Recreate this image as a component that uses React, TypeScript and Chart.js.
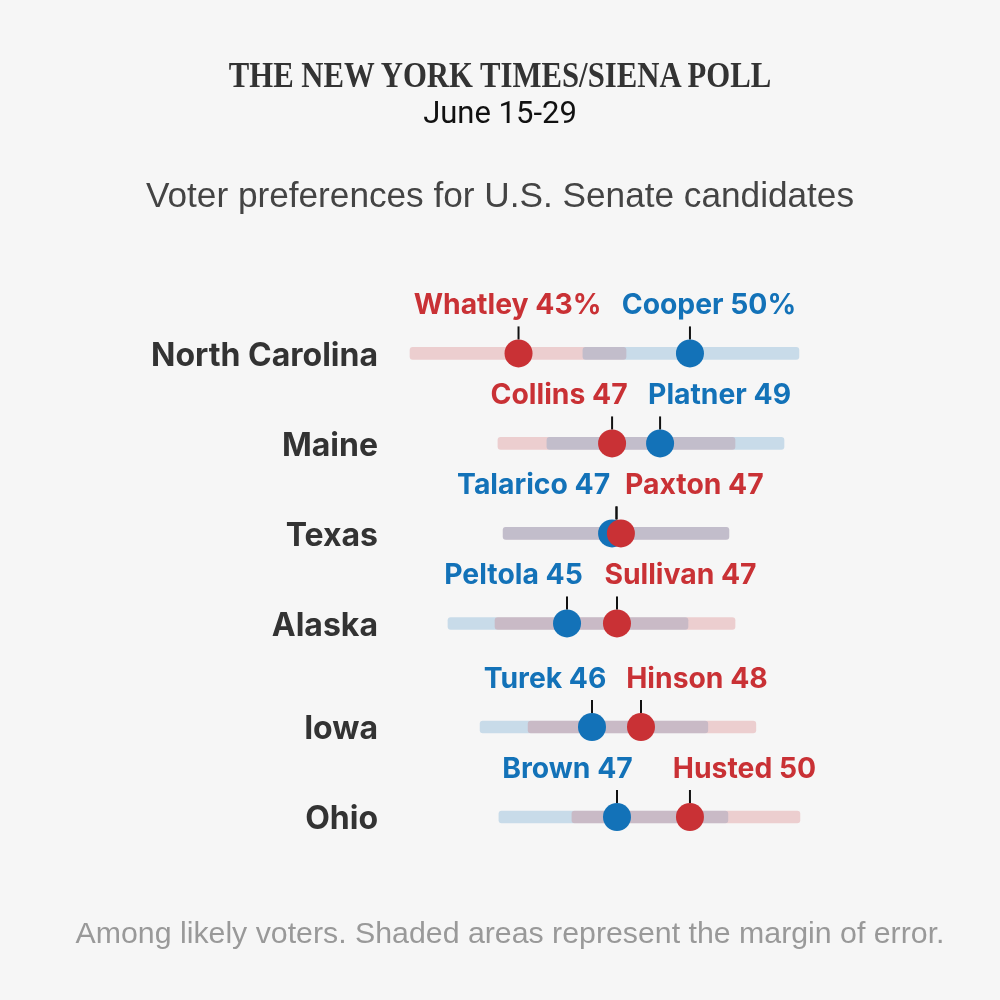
import React, { useEffect, useRef } from 'react'
import { Chart, registerables, Plugin } from 'chart.js'

Chart.register(...registerables)

const states = ['North Carolina', 'Maine', 'Texas', 'Alaska', 'Iowa', 'Ohio']
// Iowa and Ohio sit a little lower than the even spacing of the others
const rowValues = [0, 1, 2, 3, 4.15, 5.15]

const demLabels = ['Cooper 50%', 'Platner 49', 'Talarico 47', 'Peltola 45', 'Turek 46', 'Brown 47']
const repLabels = ['Whatley 43%', 'Collins 47', 'Paxton 47', 'Sullivan 47', 'Hinson 48', 'Husted 50']

const demValues = [50, 48.78, 46.82, 44.98, 46, 47.02]
const repValues = [43, 46.82, 47.18, 47.02, 48, 50]

const demLow = [45.63, 44.16, 42.37, 40.12, 41.43, 42.2]
const demHigh = [54.45, 53.84, 51.59, 49.92, 50.73, 51.55]
const repLow = [38.57, 42.16, 42.37, 42.04, 43.39, 45.18]
const repHigh = [47.39, 51.84, 51.59, 51.84, 52.69, 54.49]

// which party's band is painted last in each row
const bandOnTop = ['dem', 'dem', 'dem', 'rep', 'rep', 'rep']

// label centre relative to its dot, in pixels
const demLabelShift = [19, 59.5, -78.5, -53.5, -47, -49.5]
const repLabelShift = [-11, -53, 73.5, 63.5, 56, 54.5]

const RED = '#C93135'
const BLUE = '#1372B8'
const RED_BAND = 'rgba(201, 49, 53, 0.2)'
const BLUE_BAND = 'rgba(19, 114, 184, 0.2)'
const LABEL_FONT = 'bold 28.3px Inter, sans-serif'

const demBand = (i: number) => ({ x: [demLow[i], demHigh[i]], y: rowValues[i] })
const repBand = (i: number) => ({ x: [repLow[i], repHigh[i]], y: rowValues[i] })

const markerPlugin: Plugin<'bar'> = {
  id: 'markers',
  afterDatasetsDraw(chart) {
    const { ctx, scales } = chart
    const draw = (values: number[], labels: string[], shifts: number[], color: string) => {
      values.forEach((v, i) => {
        const px = scales.x.getPixelForValue(v)
        const py = scales.y.getPixelForValue(rowValues[i])
        ctx.save()
        ctx.strokeStyle = '#111'
        ctx.lineWidth = 2
        // Texas: both leader lines meet between the two dots
        const lineX = states[i] === 'Texas' ? scales.x.getPixelForValue((demValues[i] + repValues[i]) / 2) : px
        ctx.beginPath()
        ctx.moveTo(lineX, py - 27)
        ctx.lineTo(lineX, py - 14)
        ctx.stroke()
        ctx.font = LABEL_FONT
        ctx.fillStyle = color
        ctx.textAlign = 'center'
        ctx.textBaseline = 'middle'
        ctx.fillText(labels[i], px + shifts[i], py - 47.5)
        ctx.restore()
      })
    }
    draw(demValues, demLabels, demLabelShift, BLUE)
    draw(repValues, repLabels, repLabelShift, RED)
  }
}

const heading = (top: number, font: string, color: string, stretch = 1, left = 0): React.CSSProperties => ({
  position: 'absolute',
  left,
  width: 1000,
  top,
  textAlign: 'center',
  font,
  color,
  whiteSpace: 'nowrap',
  transform: `scaleX(${stretch})`
})

export default function App() {
  const canvasRef = useRef<HTMLCanvasElement | null>(null)

  useEffect(() => {
    if (!canvasRef.current) return
    const chart = new Chart(canvasRef.current, {
      type: 'bar',
      data: {
        datasets: [
          {
            type: 'scatter',
            data: repValues.map((v, i) => ({ x: v, y: rowValues[i] })),
            backgroundColor: RED,
            pointRadius: 14,
            pointBorderWidth: 0,
            order: 0
          },
          {
            type: 'scatter',
            data: demValues.map((v, i) => ({ x: v, y: rowValues[i] })),
            backgroundColor: BLUE,
            pointRadius: 14,
            pointBorderWidth: 0,
            order: 1
          },
          {
            type: 'bar',
            indexAxis: 'y',
            data: bandOnTop.map((p, i) => (p === 'dem' ? demBand(i) : repBand(i))),
            backgroundColor: bandOnTop.map((p) => (p === 'dem' ? BLUE_BAND : RED_BAND)),
            barThickness: 12,
            borderRadius: 3,
            borderSkipped: false,
            grouped: false,
            order: 2
          },
          {
            type: 'bar',
            indexAxis: 'y',
            data: bandOnTop.map((p, i) => (p === 'dem' ? repBand(i) : demBand(i))),
            backgroundColor: bandOnTop.map((p) => (p === 'dem' ? RED_BAND : BLUE_BAND)),
            barThickness: 12,
            borderRadius: 3,
            borderSkipped: false,
            grouped: false,
            order: 3
          }
        ] as any
      },
      options: {
        responsive: false,
        animation: false,
        indexAxis: 'y',
        layout: { padding: { right: 180, top: 240, bottom: 120 } },
        plugins: { legend: { display: false }, tooltip: { enabled: false } },
        scales: {
          x: { type: 'linear', min: 38.16, max: 55.31, display: false },
          y: {
            type: 'linear',
            reverse: true,
            offset: false, // the bar defaults would widen the range
            min: -1.26,
            max: 5.85,
            afterFit: (scale) => {
              scale.width = 400
              scale.paddingTop = 0
              scale.paddingBottom = 0
            },
            afterBuildTicks: (scale) => {
              scale.ticks = rowValues.map((value) => ({ value }))
            },
            grid: { display: false, drawTicks: false },
            border: { display: false },
            ticks: {
              autoSkip: false,
              padding: 22,
              labelOffset: 2.5,
              color: '#333',
              font: { family: 'Inter, sans-serif', size: 32, weight: 'bold' },
              callback: (v) => states[rowValues.indexOf(Number(v))]
            }
          }
        }
      },
      plugins: [markerPlugin as any]
    })
    return () => chart.destroy()
  }, [])

  return (
    <div style={{ position: 'absolute', left: 0, top: 0, width: 1000, height: 1000, background: '#F6F6F6' }}>
      <canvas ref={canvasRef} width={1000} height={1000} style={{ display: 'block' }} />
      <div style={heading(57, 'bold 35px/38px "Liberation Serif", serif', '#333', 0.878)}>THE NEW YORK TIMES/SIENA POLL</div>
      <div style={heading(95, '31px/36px Roboto, sans-serif', '#111')}>June 15-29</div>
      <div style={heading(173, '35.2px/44px "Liberation Sans", sans-serif', '#444')}>Voter preferences for U.S. Senate candidates</div>
      <div style={heading(914, '30.3px/38px "Liberation Sans", sans-serif', '#999', 1, 10)}>Among likely voters. Shaded areas represent the margin of error.</div>
    </div>
  )
}
